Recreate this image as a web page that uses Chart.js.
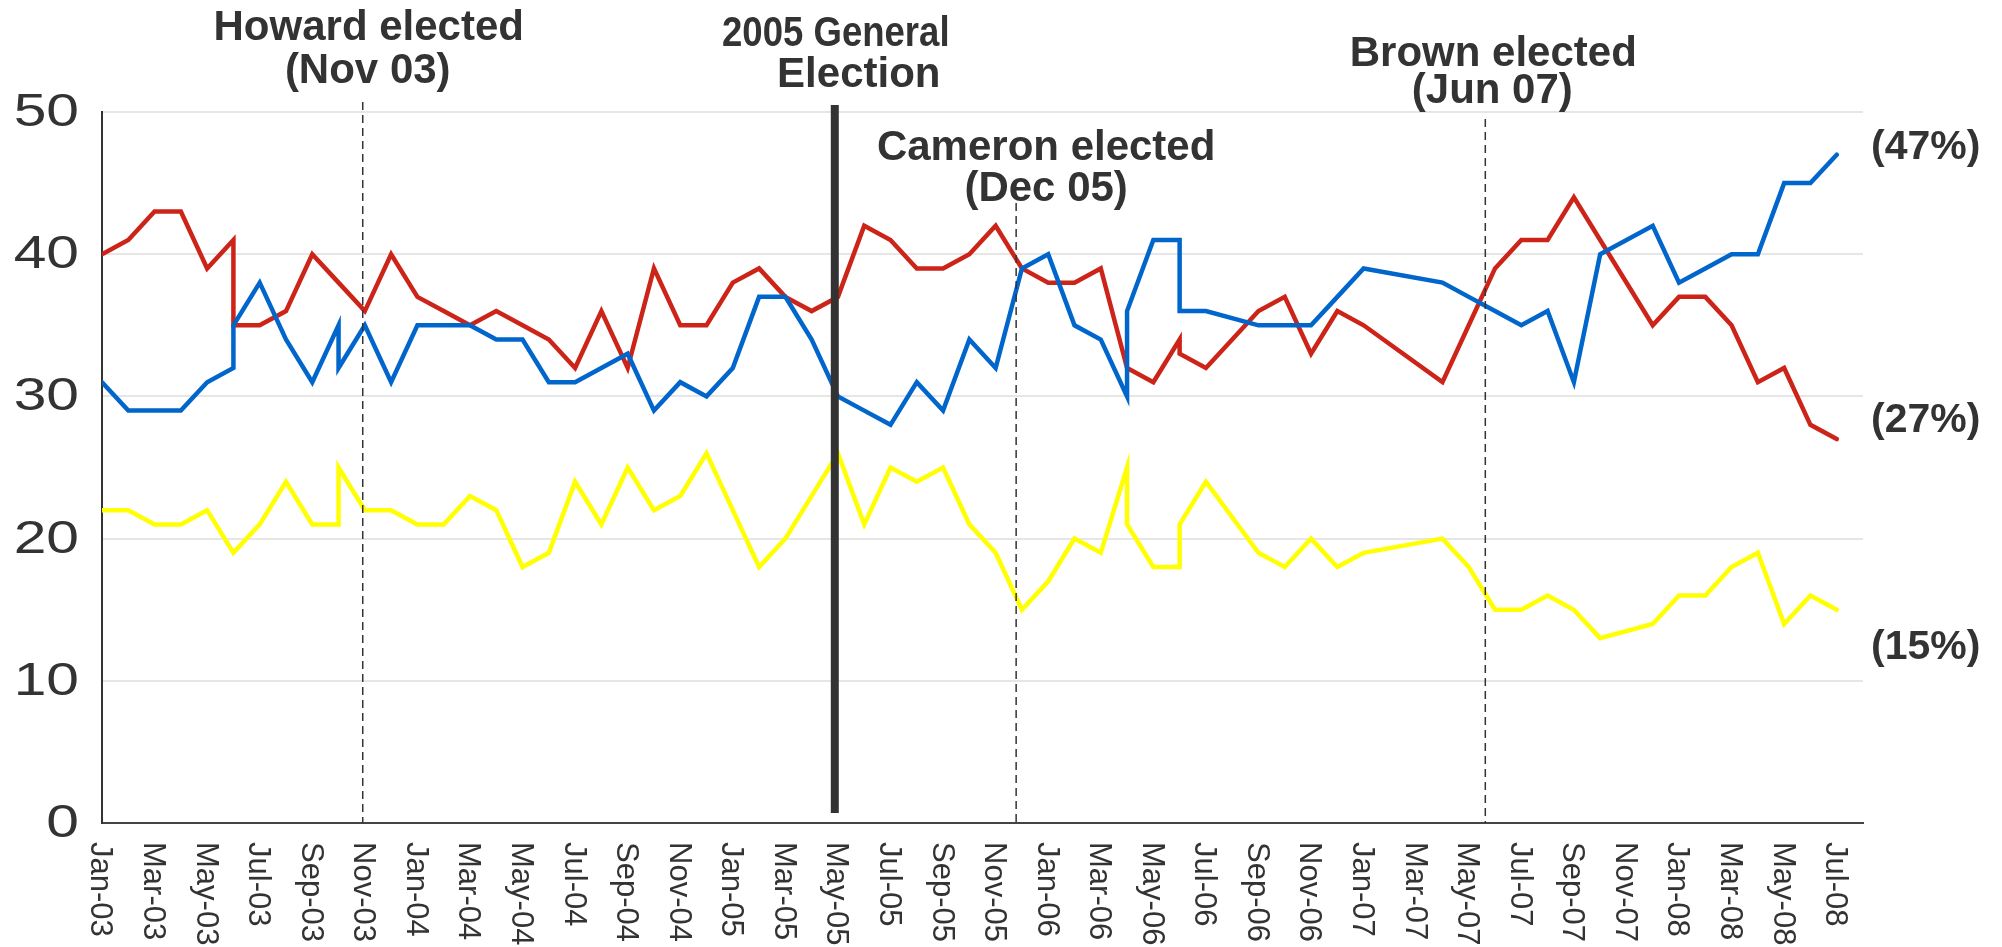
<!DOCTYPE html>
<html>
<head>
<meta charset="utf-8">
<script src="https://cdn.jsdelivr.net/npm/chart.js@4.4.1/dist/chart.umd.min.js"></script>
<style>
    html, body { margin: 0; padding: 0; background: #fff; }
</style>
</head>
<body>
<canvas id="pollChart" width="2002" height="947"></canvas>
<script>
// x = months since Jan 2003 (repeated month = two polls in the same month)
const labMonths = [0,1,2,3,4,5,5,6,7,8,9,10,11,12,13,14,15,16,17,18,19,20,21,22,23,24,25,26,27,28,29,30,31,32,33,34,35,36,37,38,39,40,41,41,42,44,45,46,47,48,51,52,53,54,55,56,57,59,60,61,62,63,64,65,66];
const labValues = [40,41,43,43,39,41,35,35,36,40,38,36,40,37,36,35,36,35,34,32,36,32,39,35,35,38,39,37,36,37,42,41,39,39,40,42,39,38,38,39,32,31,34,33,32,36,37,33,36,35,31,35,39,41,41,44,41,35,37,37,35,31,32,28,27];

const conMonths = [0,1,2,3,4,5,5,6,7,8,9,9,10,11,12,13,14,15,16,17,18,19,20,21,22,23,24,25,26,27,28,29,30,31,32,33,34,35,36,37,38,39,39,40,41,41,42,44,45,46,47,48,51,52,53,54,55,56,57,59,60,61,62,63,64,65,66];
const conValues = [31,29,29,29,31,32,35,38,34,31,35,32,35,31,35,35,35,34,34,31,31,32,33,29,31,30,32,37,37,34,30,29,28,31,29,34,32,39,40,35,34,30,36,41,41,36,36,35,35,35,37,39,38,37,36,35,36,31,40,42,38,39,40,40,45,45,47];

const ldMonths = [0,1,2,3,4,5,6,7,8,9,9,10,11,12,13,14,15,16,17,18,19,20,21,22,23,24,25,26,27,28,29,30,31,32,33,34,35,36,37,38,39,39,40,41,41,42,44,45,46,47,48,51,52,53,54,55,56,57,59,60,61,62,63,64,65,66];
const ldValues = [22,22,21,21,22,19,21,24,21,21,25,22,22,21,21,23,22,18,19,24,21,25,22,23,26,22,18,20,23,26,21,25,24,25,21,19,15,17,20,19,25,21,18,18,21,24,19,18,20,18,19,20,18,15,15,16,15,13,14,16,16,18,19,14,16,15];

// axis labels, one every two months
const tickLabels = ['Jan-03','Mar-03','May-03','Jul-03','Sep-03','Nov-03','Jan-04','Mar-04','May-04','Jul-04','Sep-04','Nov-04',
    'Jan-05','Mar-05','May-05','Jul-05','Sep-05','Nov-05','Jan-06','Mar-06','May-06','Jul-06','Sep-06','Nov-06',
    'Jan-07','Mar-07','May-07','Jul-07','Sep-07','Nov-07','Jan-08','Mar-08','May-08','Jul-08'];
const yTickValues = [0,10,20,30,40,50];

// events marked on the chart
const eventMonths = [9.92, 27.88, 34.78, 52.63];
const eventNames = [['Howard elected', '(Nov 03)'], ['2005 General', 'Election'], ['Cameron elected', '(Dec 05)'], ['Brown elected', '(Jun 07)']];

function toPoints(xs, ys) {
    return xs.map((m, i) => ({ x: m, y: ys[i] }));
}

const TEXT = '#333333';
const FONT = '"Liberation Sans", Arial, Helvetica, sans-serif';

// Draws event lines, annotations, end labels and axis labels
const extrasPlugin = {
    id: 'extras',
    afterDatasetsDraw(chart) {
        const ctx = chart.ctx;
        const xs = chart.scales.x;
        const ys = chart.scales.y;
        const bottom = ys.getPixelForValue(0);

        // event lines
        const lineTops = [50.7, 50.5, 43.6, 49.5];
        eventMonths.forEach((m, i) => {
            const px = xs.getPixelForValue(m);
            ctx.save();
            ctx.strokeStyle = TEXT;
            if (i === 1) {
                ctx.lineWidth = 8;
                ctx.setLineDash([]);
                ctx.beginPath();
                ctx.moveTo(px, ys.getPixelForValue(lineTops[i]));
                ctx.lineTo(px, ys.getPixelForValue(0.7));
                ctx.stroke();
            } else {
                ctx.lineWidth = 1.5;
                ctx.setLineDash([8, 5]);
                ctx.beginPath();
                ctx.moveTo(px, ys.getPixelForValue(lineTops[i]));
                ctx.lineTo(px, bottom);
                ctx.stroke();
            }
            ctx.restore();
        });

        // annotation text: [dx line1, y line1, dx line2, y line2, squeeze line1]
        const textPos = [[6, 28, 5, 71, 1], [1, 34, 24, 75, 0.87], [30, 148, 30, 189, 1], [8, 54, 7, 91, 1]];
        ctx.save();
        ctx.fillStyle = TEXT;
        ctx.font = 'bold 42px ' + FONT;
        ctx.textAlign = 'center';
        ctx.textBaseline = 'middle';
        eventNames.forEach((lines, i) => {
            const px = xs.getPixelForValue(eventMonths[i]);
            const p = textPos[i];
            ctx.save();
            ctx.translate(px + p[0], p[1]);
            ctx.scale(p[4], 1);
            ctx.fillText(lines[0], 0, 0);
            ctx.restore();
            ctx.fillText(lines[1], px + p[2], p[3]);
        });

        // end-of-line labels
        const endAnchors = [
            [conValues[conValues.length - 1], 47.5],
            [labValues[labValues.length - 1], 28.3],
            [ldValues[ldValues.length - 1], 12.3]
        ];
        ctx.textAlign = 'left';
        ctx.font = 'bold 41px ' + FONT;
        endAnchors.forEach(a => {
            ctx.fillText('(' + a[0] + '%)', xs.right + 8, ys.getPixelForValue(a[1]));
        });
        ctx.restore();

        // x labels, rotated to read downwards
        ctx.save();
        ctx.fillStyle = TEXT;
        ctx.font = '31px ' + FONT;
        ctx.textAlign = 'left';
        ctx.textBaseline = 'middle';
        tickLabels.forEach((lab, i) => {
            const px = xs.getPixelForValue(i * 2);
            ctx.save();
            ctx.translate(px - 2, bottom + 19);
            ctx.rotate(Math.PI / 2);
            ctx.fillText(lab, 0, 0);
            ctx.restore();
        });
        ctx.restore();

        // y labels
        ctx.save();
        ctx.fillStyle = TEXT;
        ctx.font = '47px ' + FONT;
        ctx.textAlign = 'right';
        ctx.textBaseline = 'middle';
        yTickValues.forEach(v => {
            ctx.save();
            ctx.translate(xs.left - 23, ys.getPixelForValue(v) + 1);
            ctx.scale(1.25, 1);
            ctx.fillText(String(v), 0, 0);
            ctx.restore();
        });
        ctx.restore();
    }
};

const ctx = document.getElementById('pollChart');

new Chart(ctx, {
    type: 'line',
    data: {
        datasets: [
            {
                label: 'Conservative',
                data: toPoints(conMonths, conValues),
                borderColor: '#0066cc',
                borderWidth: 4.5
            },
            {
                label: 'Labour',
                data: toPoints(labMonths, labValues),
                borderColor: '#cc2418',
                borderWidth: 4.5
            },
            {
                label: 'Liberal Democrat',
                data: toPoints(ldMonths, ldValues),
                borderColor: '#ffff00',
                borderWidth: 4.5
            }
        ]
    },
    options: {
        responsive: false,
        animation: false,
        devicePixelRatio: 1,
        layout: {
            padding: { left: 102, top: 112, right: 139, bottom: 124 }
        },
        elements: {
            point: { radius: 0, hoverRadius: 0 },
            line: { tension: 0, borderCapStyle: 'round', fill: false }
        },
        plugins: {
            legend: { display: false },
            tooltip: { enabled: false }
        },
        scales: {
            x: {
                type: 'linear',
                min: 0,
                max: 67,
                grid: { display: false, drawTicks: false },
                border: { display: true, color: '#444444', width: 2 },
                ticks: { display: false, stepSize: 2 }
            },
            y: {
                min: 0,
                max: 50,
                grid: { color: '#e6e6e6', lineWidth: 2, drawTicks: false },
                border: { display: true, color: '#333333', width: 2 },
                ticks: { display: false, stepSize: 10 }
            }
        }
    },
    plugins: [extrasPlugin]
});
</script>
</body>
</html>
